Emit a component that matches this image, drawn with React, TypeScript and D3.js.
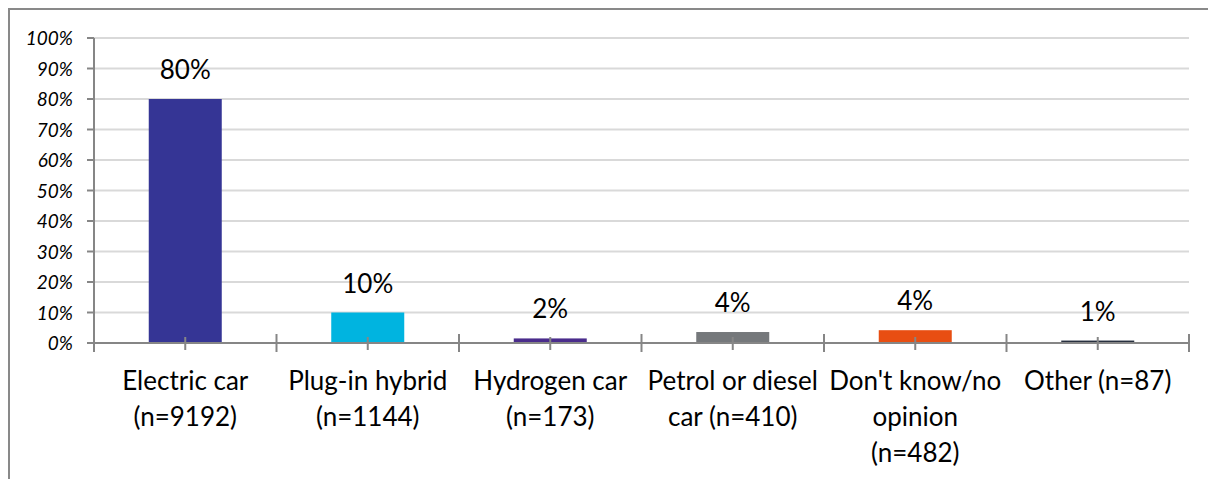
import { useEffect, useRef } from "react";
import * as d3 from "d3";

// survey: preferred type of next car
const categories = ["Electric car", "Plug-in hybrid", "Hydrogen car", "Petrol or diesel car", "Don't know/no opinion", "Other"];
const labelLines = [
  ["Electric car", "(n=9192)"],
  ["Plug-in hybrid", "(n=1144)"],
  ["Hydrogen car", "(n=173)"],
  ["Petrol or diesel", "car (n=410)"],
  ["Don't know/no", "opinion", "(n=482)"],
  ["Other (n=87)"],
];
const shares = [80, 10, 1.5, 3.6, 4.2, 0.8];
const valueLabels = ["80%", "10%", "2%", "4%", "4%", "1%"];
const barColors = ["#353595", "#00B4E0", "#4A2C8C", "#75787B", "#E84E12", "#28303F"];
const yTicks = [0, 10, 20, 30, 40, 50, 60, 70, 80, 90, 100];

const W = 1208;
const H = 479;
const FONT = "Lato, 'Noto Sans', sans-serif";

export default function App() {
  const ref = useRef<SVGSVGElement>(null);

  useEffect(() => {
    const svg = d3.select(ref.current);
    svg.selectAll("*").remove();

    const left = 94, right = 1189, top = 38, bottom = 343;

    const x = d3.scaleBand<string>().domain(categories).range([left, right]).padding(0);
    const y = d3.scaleLinear().domain([0, 100]).range([bottom, top]);

    // chart frame (only top + left visible)
    svg.append("rect")
      .attr("x", 9).attr("y", 9)
      .attr("width", 1300).attr("height", 600)
      .attr("fill", "none").attr("stroke", "#898989").attr("stroke-width", 2);

    // gridlines
    svg.append("g").selectAll("line")
      .data(yTicks.filter((t) => t > 0))
      .join("line")
      .attr("x1", left).attr("x2", right)
      .attr("y1", (d) => y(d)).attr("y2", (d) => y(d))
      .attr("stroke", "#D9D9D9").attr("stroke-width", 2);

    // bars
    const bw = x.bandwidth() * 0.4;
    svg.append("g").selectAll("rect")
      .data(categories)
      .join("rect")
      .attr("x", (d) => x(d)! + x.bandwidth() / 2 - bw / 2)
      .attr("y", (d, i) => y(shares[i]))
      .attr("width", bw)
      .attr("height", (d, i) => bottom - y(shares[i]))
      .attr("fill", (d, i) => barColors[i]);

    // y axis
    const axisColor = "#868686";
    svg.append("line")
      .attr("x1", left).attr("x2", left)
      .attr("y1", top).attr("y2", bottom + 9)
      .attr("stroke", axisColor).attr("stroke-width", 2);
    const yg = svg.append("g");
    yg.selectAll("line")
      .data(yTicks)
      .join("line")
      .attr("x1", left - 7).attr("x2", left)
      .attr("y1", (d) => y(d)).attr("y2", (d) => y(d))
      .attr("stroke", axisColor).attr("stroke-width", 2);
    yg.selectAll("text")
      .data(yTicks)
      .join("text")
      .attr("x", 73)
      .attr("y", (d) => y(d) + 7)
      .attr("text-anchor", "end")
      .attr("font-family", FONT)
      .attr("font-style", "italic")
      .attr("font-size", 19)
      .attr("fill", "#000")
      .text((d) => `${d}%`);

    // x axis
    svg.append("line")
      .attr("x1", left).attr("x2", right)
      .attr("y1", bottom).attr("y2", bottom)
      .attr("stroke", axisColor).attr("stroke-width", 2);
    const edges = categories.map((c) => x(c)! + x.bandwidth());
    svg.append("g").selectAll("line")
      .data(edges)
      .join("line")
      .attr("x1", (d) => d).attr("x2", (d) => d)
      .attr("y1", bottom - 9).attr("y2", bottom + 9)
      .attr("stroke", axisColor).attr("stroke-width", 2);
    svg.append("g").selectAll("line")
      .data(categories)
      .join("line")
      .attr("x1", (d) => x(d)! + x.bandwidth() / 2).attr("x2", (d) => x(d)! + x.bandwidth() / 2)
      .attr("y1", bottom - 6).attr("y2", bottom + 7)
      .attr("stroke", axisColor).attr("stroke-width", 2);

    // category labels
    const cl = svg.append("g")
      .attr("font-family", FONT)
      .attr("font-size", 26)
      .attr("fill", "#000")
      .attr("text-anchor", "middle");
    categories.forEach((c, i) => {
      const t = cl.append("text").attr("x", x(c)! + x.bandwidth() / 2).attr("y", 390);
      labelLines[i].forEach((ln, j) => {
        t.append("tspan")
          .attr("x", x(c)! + x.bandwidth() / 2)
          .attr("dy", j === 0 ? 0 : 36)
          .text(ln);
      });
    });

    // value labels
    svg.append("g").selectAll("text")
      .data(categories)
      .join("text")
      .attr("x", (d) => x(d)! + x.bandwidth() / 2)
      .attr("y", (d, i) => y(shares[i]) - 20)
      .attr("text-anchor", "middle")
      .attr("font-family", FONT)
      .attr("font-size", 26)
      .attr("fill", "#000")
      .text((d, i) => valueLabels[i]);
  }, []);

  return (
    <svg
      ref={ref}
      width={W}
      height={H}
      style={{ position: "absolute", left: 0, top: 0, background: "#fff" }}
    />
  );
}
